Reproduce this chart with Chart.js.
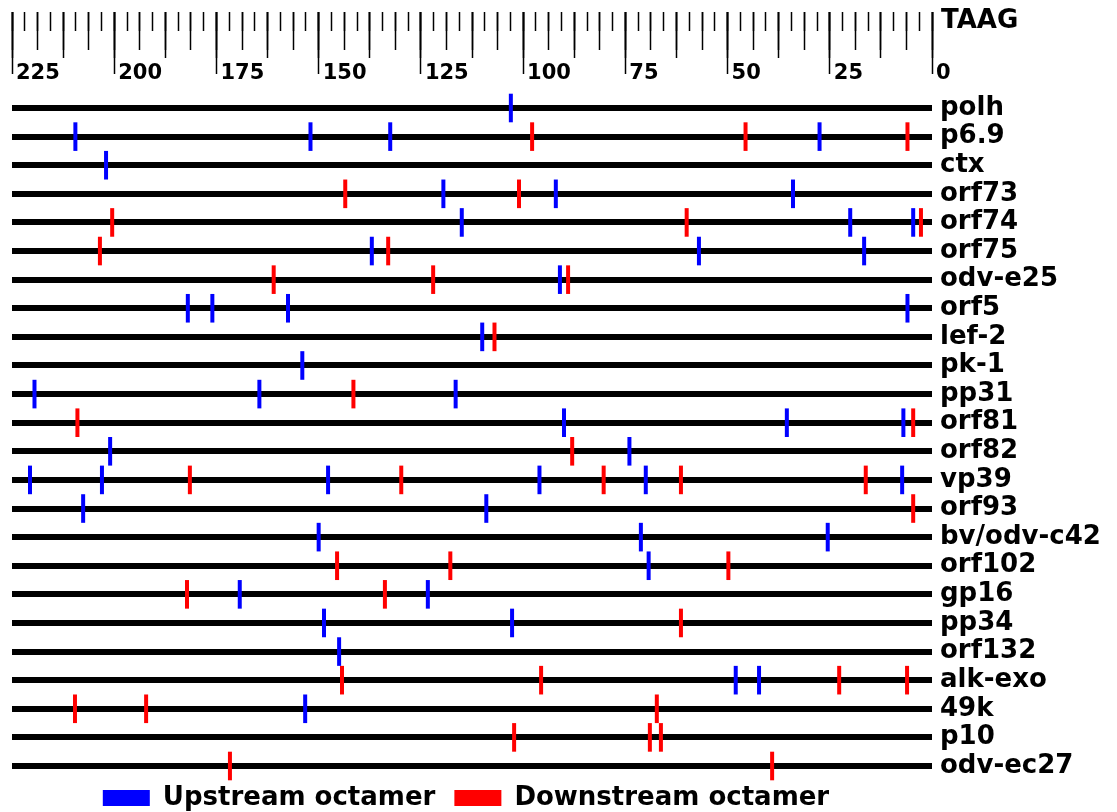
<!DOCTYPE html>
<html>
<head>
<meta charset="utf-8">
<script src="https://cdn.jsdelivr.net/npm/chart.js@4/dist/chart.umd.min.js"></script>
<style>
html,body{margin:0;padding:0;background:#fff;}
#wrap{width:1117px;height:812px;}
</style>
</head>
<body>
<div id="wrap"><canvas id="c" width="1117" height="812"></canvas></div>
<script>
// ---- data ----
const genes = ['polh','p6.9','ctx','orf73','orf74','orf75','odv-e25','orf5','lef-2','pk-1','pp31','orf81','orf82','vp39','orf93','bv/odv-c42','orf102','gp16','pp34','orf132','alk-exo','49k','p10','odv-ec27'];

// positions (bp upstream of TAAG) of upstream octamers, one list per gene
const upstreamPos = [
  [103],
  [209.5, 152, 132.5, 27.5],
  [202],
  [119.5, 92, 34],
  [115, 20, 4.6],
  [137, 57, 16.6],
  [91],
  [182, 176, 157.5, 6],
  [110],
  [154],
  [219.5, 164.5, 116.5],
  [90, 35.5, 7],
  [201, 74],
  [220.6, 203, 147.7, 96, 70, 7.3],
  [207.6, 109],
  [150, 71.2, 25.5],
  [69.3],
  [169.3, 123.3],
  [148.7, 102.7],
  [145],
  [48, 42.3],
  [153.3],
  [],
  []
];

// positions of downstream octamers, one list per gene
const downstreamPos = [
  [],
  [97.8, 45.6, 6],
  [],
  [143.5, 101],
  [200.5, 60, 2.7],
  [203.5, 133],
  [161, 122, 89],
  [],
  [107],
  [],
  [141.5],
  [209, 4.6],
  [88],
  [181.5, 129.8, 80.3, 61.4, 16.2],
  [4.6],
  [],
  [145.5, 117.8, 49.8],
  [182.2, 133.8],
  [61.4],
  [],
  [144.3, 95.6, 22.7, 6.1],
  [209.6, 192.2, 67.3],
  [102.2, 69, 66.3],
  [171.7, 39.1]
];

const tickLabels = [225, 200, 175, 150, 125, 100, 75, 50, 25, 0];
const seriesNames = ['Upstream octamer', 'Downstream octamer'];

// ---- build ----
const toPoints = lists => lists.flatMap((arr, i) => arr.map(v => ({x: v, y: genes[i]})));

Chart.defaults.font.family = "'DejaVu Sans', sans-serif";
Chart.defaults.color = '#000';

const RULER = {y: -3.3556}; // ruler hangs above the first row

function rulerAxis(step, len, extra) {
  return Object.assign({
    type: 'linear', axis: 'x', min: 0, max: 225, reverse: true,
    position: RULER,
    border: {display: false},
    grid: {display: true, drawOnChartArea: false, drawTicks: true, tickLength: len, tickColor: '#000', tickWidth: 1.5, color: '#000'},
    ticks: {display: false, stepSize: step, autoSkip: false, maxRotation: 0, minRotation: 0}
  }, extra || {});
}

const legendNudge = {
  id: 'legendNudge',
  afterLayout(chart) {
    const l = chart.legend;
    if (l) { l.left -= 6; l.right -= 6; }
  }
};

new Chart(document.getElementById('c'), {
  type: 'scatter',
  data: {
    datasets: [
      {
        label: seriesNames[0],
        data: toPoints(upstreamPos),
        borderColor: '#0000ff', backgroundColor: '#0000ff',
        pointStyle: 'line', pointRotation: 90, pointRadius: 14.3,
        pointBorderWidth: 4, borderWidth: 4, showLine: false, clip: false
      },
      {
        label: seriesNames[1],
        data: toPoints(downstreamPos),
        borderColor: '#ff0000', backgroundColor: '#ff0000',
        pointStyle: 'line', pointRotation: 90, pointRadius: 14.3,
        pointBorderWidth: 4, borderWidth: 4, showLine: false, clip: false
      }
    ]
  },
  plugins: [legendNudge],
  options: {
    responsive: false,
    animation: false,
    devicePixelRatio: 1,
    events: [],
    layout: {autoPadding: false, padding: {left: 12, top: 108, right: 0, bottom: 0}},
    scales: {
      x: rulerAxis(25, 62, {
        afterBuildTicks: axis => { axis.ticks = tickLabels.map(v => ({value: v})); },
        ticks: {display: true, autoSkip: false, maxRotation: 0, minRotation: 0, align: 'start',
                labelOffset: 4, padding: -12.6, color: '#000', font: {size: 21, weight: 'bold'}}
      }),
      x2: rulerAxis(12.5, 46),
      x4: rulerAxis(6.25, 38),
      x8: rulerAxis(3.125, 19, {
        ticks: {display: true, stepSize: 3.125, autoSkip: false, maxRotation: 0, minRotation: 0, align: 'start',
                labelOffset: 9, padding: -25, color: '#000', font: {size: 26, weight: 'bold'},
                callback: v => (v === 0 ? 'TAAG' : '')}
      }),
      y: {
        type: 'category', labels: genes, position: 'right', offset: false,
        border: {display: false},
        grid: {display: true, offset: false, drawTicks: false, color: '#000', lineWidth: 6},
        ticks: {autoSkip: false, padding: 8, color: '#000', font: {size: 26, weight: 'bold'}},
        afterFit: s => { s.width = 185; }
      }
    },
    plugins: {
      tooltip: {enabled: false},
      legend: {
        position: 'bottom', align: 'center', fullSize: false, maxHeight: 46,
        labels: {
          boxWidth: 47, boxHeight: 16, padding: 19, color: '#000',
          font: {size: 26, weight: 'bold'},
          generateLabels: chart => Chart.defaults.plugins.legend.labels.generateLabels(chart)
            .map(it => Object.assign(it, {lineWidth: 0}))
        }
      }
    }
  }
});
</script>
</body>
</html>
